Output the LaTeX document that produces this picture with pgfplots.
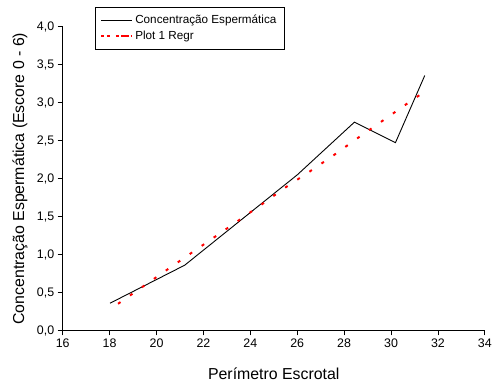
\documentclass[border=0pt]{standalone}
\usepackage{fontspec}
\setmainfont{Liberation Sans}
\usepackage{pgfplots}
\pgfplotsset{compat=1.18}

\begin{document}
\begin{tikzpicture}
\begin{axis}[
  at={(0,0)}, anchor=south west,
  scale only axis,
  width=424bp, height=305bp,
  xmin=16, xmax=34, ymin=0, ymax=4,
  axis x line=bottom, axis y line=left,
  axis line style={-, line width=0.8bp},
  xtick={16,18,...,34},
  ytick={0,0.5,...,4},
  tick align=outside,
  major tick length=5bp,
  tick style={line width=0.8bp, black},
  /pgf/number format/assume math mode=true,
  yticklabel style={/pgf/number format/.cd, use comma, fixed, fixed zerofill, precision=1},
  ticklabel style={font=\fontsize{12.5}{14}\selectfont},
  xlabel={Perímetro Escrotal},
  ylabel={Concentração Espermática (Escore 0 - 6)},
  every axis x label/.style={at={(axis description cs:0.5,-0.141)}, anchor=center,
    font=\fontsize{16}{19}\selectfont},
  every axis y label/.style={at={(axis description cs:-0.1014,0.5)}, anchor=center, rotate=90,
    font=\fontsize{16}{19}\selectfont},
  legend style={
    at={(rel axis cs:0.0755,1.0656)}, anchor=north west,
    draw=black, line width=0.8bp,
    font=\fontsize{11.8}{14}\selectfont,
    inner xsep=5.5bp, inner ysep=6bp,
    row sep=2bp,
    cells={anchor=west},
  },
  legend cell align=left,
  clip=false,
]
% mean score per scrotal perimeter
\addplot[black, line width=0.9bp,
  legend image code/.code={\path (0bp,0bp) -- (31bp,0bp);
    \draw[black, line width=0.9bp] (0bp,0bp) -- (27bp,0bp);}]
  coordinates {
  (18.02,0.36) (21.2,0.86) (26.0,2.05) (28.44,2.745) (30.19,2.475) (31.44,3.36)
};
\addlegendentry{Concentração Espermática}
% fitted regression
\addplot[red, line width=2bp, dash pattern=on 3bp off 11.6bp,
  legend image code/.code={\path (0bp,0bp) -- (31bp,0bp);
    \draw[red, line width=2bp, solid] (6bp,0bp) -- (9bp,0bp) (20bp,0bp) -- (28bp,0bp);}]
  coordinates {
  (18.36,0.352) (19.41,0.577) (20.43,0.796) (21.45,1.014) (22.46,1.228)
  (23.47,1.443) (24.49,1.662) (25.50,1.885) (26.53,2.094) (27.55,2.308)
  (28.56,2.531) (29.58,2.750) (30.59,2.968) (31.45,3.151)
};
\addlegendentry{Plot 1 Regr}
\end{axis}
\useasboundingbox (-63bp,-57bp) rectangle (432bp,332bp);
\end{tikzpicture}
\end{document}
